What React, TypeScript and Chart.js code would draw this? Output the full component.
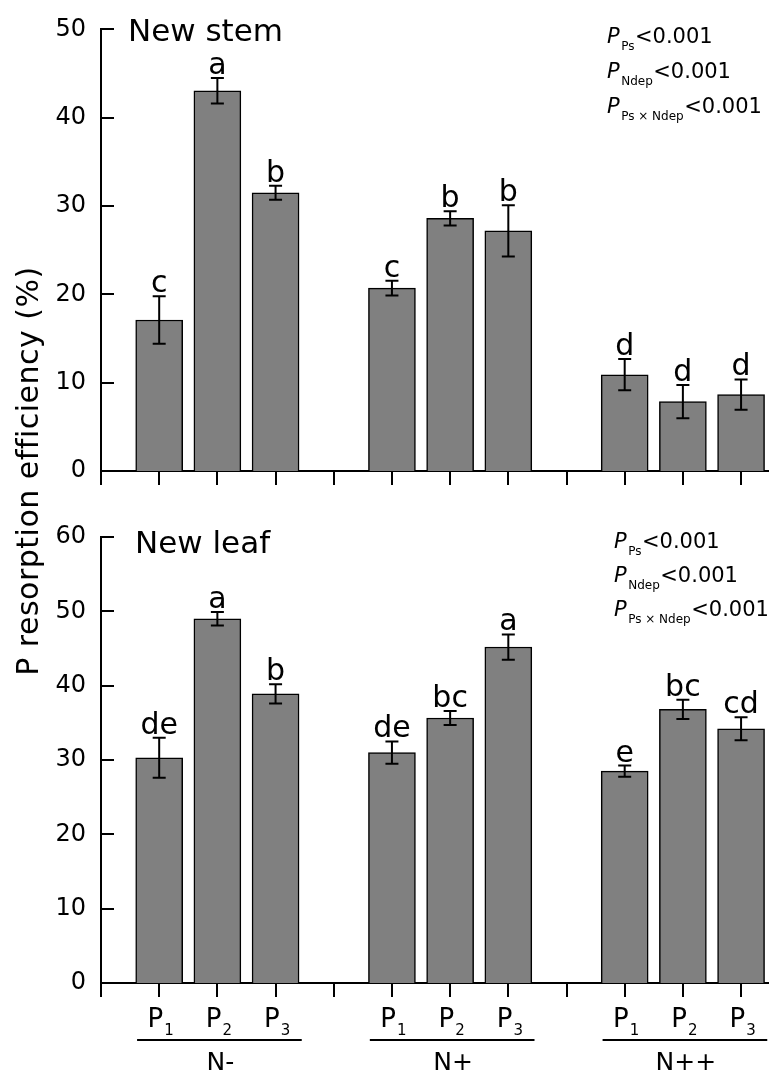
import React, { useEffect, useRef } from "react";
import { Chart, registerables } from "chart.js";

Chart.register(...registerables);

const FONT = '"DejaVu Sans", "Liberation Sans", sans-serif';
const BAR_FILL = "#808080";

// Categories
const groups = ["N-", "N+", "N++"];
const treatmentSubs = ["1", "2", "3"];
const tickValues = [0, 1, 2, 3, 4, 5, 6, 7, 8, 9, 10, 11];

// New stem panel
const stemMeans = [17.1, 43.05, 31.5, 20.7, 28.6, 27.2, 10.9, 7.85, 8.65];
const stemSE = [2.7, 1.45, 0.8, 0.83, 0.8, 2.9, 1.77, 1.88, 1.72];
const stemLetters = ["c", "a", "b", "c", "b", "b", "d", "d", "d"];

// New leaf panel
const leafMeans = [30.3, 49.0, 38.9, 31.0, 35.65, 45.2, 28.5, 36.8, 34.2];
const leafSE = [2.7, 0.9, 1.3, 1.5, 0.95, 1.7, 0.75, 1.3, 1.55];
const leafLetters = ["de", "a", "b", "de", "bc", "a", "e", "bc", "cd"];

// Statistics text
const statSubs = ["Ps", "Ndep", "Ps \u00d7 Ndep"];
const statValues = ["<0.001", "<0.001", "<0.001"];

const yTitle = "P resorption efficiency (%)";

type Panel = {
  title: string;
  means: number[];
  se: number[];
  letters: string[];
  yMax: number;
  padTop: number;
  padBottom: number;
  xAxisHeight: number;
  titleX: number;
  titleBase: number;
  statX: number;
  statBase: number[];
  bottomLabels: boolean;
};

function makeDecor(p: Panel) {
  return {
    id: "panelDecor",
    afterDraw(chart: any) {
      const { ctx, chartArea } = chart;
      const xs = chart.scales.x;
      const ys = chart.scales.y;
      ctx.save();
      ctx.fillStyle = "#000";
      ctx.strokeStyle = "#000";
      ctx.lineWidth = 2;
      // inward y ticks
      ys.ticks.forEach((t: any) => {
        const py = Math.round(ys.getPixelForValue(t.value));
        ctx.beginPath();
        ctx.moveTo(chartArea.left, py);
        ctx.lineTo(chartArea.left + 13, py);
        ctx.stroke();
      });
      // error bars + letters
      const meta = chart.getDatasetMeta(0);
      meta.data.forEach((el: any, i: number) => {
        const x = el.x;
        const yT = ys.getPixelForValue(p.means[i] + p.se[i]);
        const yB = ys.getPixelForValue(p.means[i] - p.se[i]);
        ctx.lineWidth = 2;
        ctx.beginPath();
        ctx.moveTo(x, yT);
        ctx.lineTo(x, yB);
        ctx.moveTo(x - 6.5, yT);
        ctx.lineTo(x + 6.5, yT);
        ctx.moveTo(x - 6.5, yB);
        ctx.lineTo(x + 6.5, yB);
        ctx.stroke();
        ctx.font = `30px ${FONT}`;
        ctx.textAlign = "center";
        ctx.textBaseline = "alphabetic";
        ctx.fillText(p.letters[i], x, yT - 4);
      });
      // panel title
      ctx.textAlign = "left";
      ctx.font = `31px ${FONT}`;
      ctx.fillText(p.title, p.titleX, p.titleBase);
      // stats
      statSubs.forEach((sub, k) => {
        const b = p.statBase[k];
        ctx.font = `italic 21px ${FONT}`;
        ctx.fillText("P", p.statX, b);
        let cx = p.statX + ctx.measureText("P").width + 1.5;
        ctx.font = `12px ${FONT}`;
        ctx.fillText(sub, cx, b + 7);
        cx += ctx.measureText(sub).width + 0.5;
        ctx.font = `21px ${FONT}`;
        ctx.fillText(statValues[k], cx, b);
      });
      if (p.bottomLabels) {
        const axisY = chartArea.bottom;
        groups.forEach((g, gi) => {
          treatmentSubs.forEach((s, ti) => {
            const v = gi * 4 + ti + 1;
            const px = xs.getPixelForValue(v);
            ctx.font = `26px ${FONT}`;
            const wP = ctx.measureText("P").width;
            ctx.font = `15px ${FONT}`;
            const wS = ctx.measureText(s).width;
            const left = px - (wP + wS) / 2 + 1;
            ctx.font = `26px ${FONT}`;
            ctx.textAlign = "left";
            ctx.fillText("P", left, axisY + 44);
            ctx.font = `15px ${FONT}`;
            ctx.fillText(s, left + wP + 1, axisY + 52);
          });
          const x1 = xs.getPixelForValue(gi * 4 + 1 - 0.38);
          const x2 = xs.getPixelForValue(gi * 4 + 3 + 0.45);
          ctx.lineWidth = 2;
          ctx.beginPath();
          ctx.moveTo(x1, axisY + 57);
          ctx.lineTo(x2, axisY + 57);
          ctx.stroke();
          ctx.font = `25px ${FONT}`;
          ctx.textAlign = "center";
          ctx.fillText(g, xs.getPixelForValue(gi * 4 + 2.05), axisY + 87);
        });
        // shared y title
        ctx.save();
        ctx.translate(38, 471);
        ctx.rotate(-Math.PI / 2);
        ctx.font = `30px ${FONT}`;
        try {
          (ctx as any).letterSpacing = "0.5px";
        } catch (e) {}
        ctx.textAlign = "center";
        ctx.fillText(yTitle, 0, 0);
        ctx.restore();
      }
      ctx.restore();
    },
  };
}

function makeConfig(p: Panel): any {
  const xs = p.means.map((_, i) => Math.floor(i / 3) * 4 + (i % 3) + 1);
  return {
    type: "bar",
    data: {
      datasets: [
        {
          data: xs.map((x, i) => ({ x, y: p.means[i] })),
          backgroundColor: BAR_FILL,
          borderColor: "#000",
          borderWidth: 1.5,
          barThickness: 47,
        },
      ],
    },
    options: {
      animation: false,
      responsive: false,
      devicePixelRatio: 1,
      layout: { padding: { top: p.padTop, bottom: p.padBottom, left: 0, right: 0 } },
      plugins: { legend: { display: false }, tooltip: { enabled: false } },
      scales: {
        x: {
          type: "linear",
          min: 0,
          max: 11.48,
          offset: false,
          grid: {
            display: true,
            offset: false,
            drawOnChartArea: false,
            drawTicks: true,
            tickLength: 14,
            color: "#000",
            lineWidth: 2,
          },
          border: { display: true, color: "#000", width: 2 },
          ticks: { display: false },
          afterBuildTicks: (s: any) => {
            s.ticks = tickValues.map((v) => ({ value: v }));
          },
          afterFit: (s: any) => {
            s.height = p.xAxisHeight;
          },
        },
        y: {
          min: 0,
          max: p.yMax,
          ticks: { stepSize: 10, color: "#000", font: { family: FONT, size: 24 }, padding: 15 },
          grid: { display: false, drawTicks: false },
          border: { display: true, color: "#000", width: 2 },
          afterFit: (s: any) => {
            s.width = 101;
          },
        },
      },
    },
    plugins: [makeDecor(p)],
  };
}

const stemPanel: Panel = {
  title: "New stem",
  means: stemMeans,
  se: stemSE,
  letters: stemLetters,
  yMax: 50,
  padTop: 24,
  padBottom: 1073 - 471 - 14,
  xAxisHeight: 14,
  titleX: 128,
  titleBase: 41,
  statX: 607,
  statBase: [43, 78, 113],
  bottomLabels: false,
};

const leafPanel: Panel = {
  title: "New leaf",
  means: leafMeans,
  se: leafSE,
  letters: leafLetters,
  yMax: 60,
  padTop: 537,
  padBottom: 0,
  xAxisHeight: 90,
  titleX: 135,
  titleBase: 553,
  statX: 614,
  statBase: [548, 582, 616],
  bottomLabels: true,
};

export default function App() {
  const topRef = useRef<HTMLCanvasElement>(null);
  const botRef = useRef<HTMLCanvasElement>(null);
  useEffect(() => {
    const c1 = new Chart(topRef.current as HTMLCanvasElement, makeConfig(stemPanel));
    const c2 = new Chart(botRef.current as HTMLCanvasElement, makeConfig(leafPanel));
    return () => {
      c1.destroy();
      c2.destroy();
    };
  }, []);
  return (
    <div style={{ position: "absolute", left: 0, top: 0, width: 769, height: 1073, background: "#fff", overflow: "hidden" }}>
      <canvas ref={topRef} width={769} height={1073} style={{ position: "absolute", left: 0, top: 0 }} />
      <canvas ref={botRef} width={769} height={1073} style={{ position: "absolute", left: 0, top: 0 }} />
    </div>
  );
}
